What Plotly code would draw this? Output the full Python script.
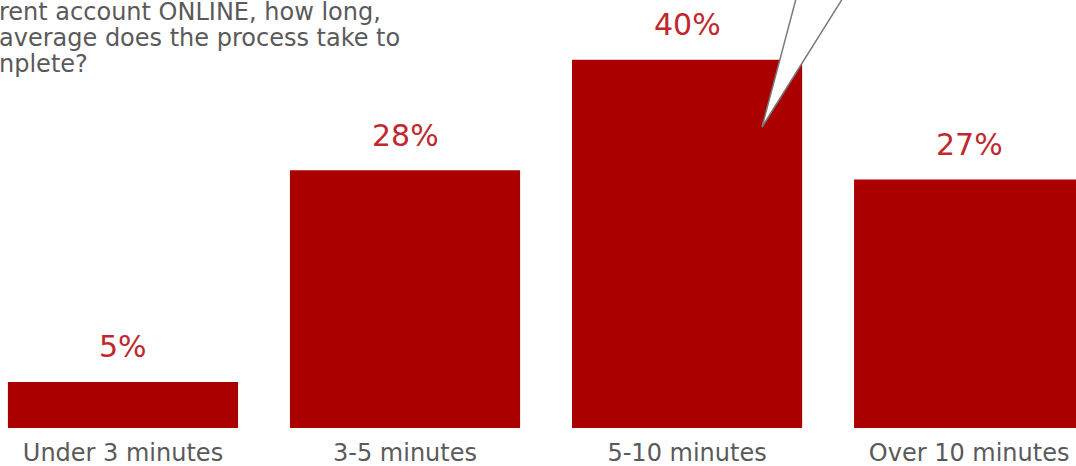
import plotly.graph_objects as go

categories = ["Under 3 minutes", "3-5 minutes", "5-10 minutes", "Over 10 minutes"]
values = [5, 28, 40, 27]
value_labels = ["5%", "28%", "40%", "27%"]
question_lines = ["rent account ONLINE, how long,", "average does the process take to", "nplete?"]

BAR = "#aa0000"
LABEL_RED = "#c0282d"
GRAY = "#5a5a5a"
FONT = "DejaVu Sans"

fig = go.Figure()
fig.add_trace(go.Bar(
    x=list(range(len(categories))), y=values,
    marker=dict(color=BAR, line=dict(width=0)),
    width=0.816, hoverinfo="skip",
))

for i, (v, t) in enumerate(zip(values, value_labels)):
    fig.add_annotation(x=i, y=v, text=t, showarrow=False, xref="x", yref="y",
                       yanchor="middle", yshift=35,
                       font=dict(family=FONT, size=30, color=LABEL_RED))

line_centers = [12, 38, 64]
for line, c in zip(question_lines, line_centers):
    fig.add_annotation(x=0, y=1.0, xref="paper", yref="paper", xanchor="left", yanchor="middle",
                       xshift=-3, yshift=-c, align="left", showarrow=False, text=line,
                       font=dict(family=FONT, size=24, color=GRAY))

# speech bubble pointer
fig.add_shape(type="path", xref="paper", yref="paper",
              path="M 0.7416 1.02 L 0.7082 0.7033 L 0.7872 1.02 Z",
              fillcolor="white", line=dict(color="#7a7a7a", width=1.5))

fig.update_layout(
    width=1076, height=466,
    margin=dict(l=0, r=0, t=0, b=38),
    paper_bgcolor="white", plot_bgcolor="white",
    showlegend=False,
    xaxis=dict(range=[-0.436, 3.379], tickmode="array", tickvals=list(range(len(categories))),
               ticktext=categories, showgrid=False, zeroline=False, showline=False,
               ticks="outside", ticklen=3, tickcolor="rgba(0,0,0,0)",
               tickfont=dict(family=FONT, size=24, color=GRAY)),
    yaxis=dict(range=[0, 46.5], visible=False),
)

fig.write_html("out.html")
